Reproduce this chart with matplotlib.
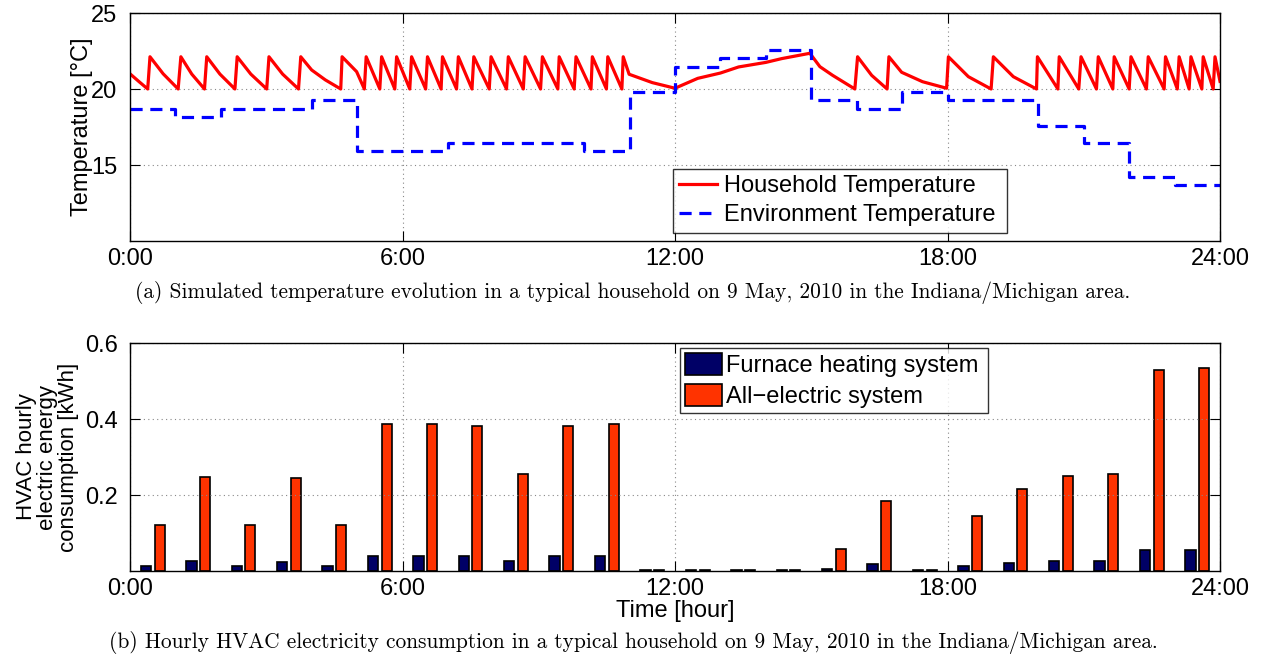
import matplotlib
matplotlib.use("Agg")
import matplotlib.pyplot as plt
import numpy as np
from matplotlib.patches import Patch

plt.rcParams['font.family'] = ['Liberation Sans', 'DejaVu Sans']

# ---------------- data ----------------
# Household temperature (hour, degC)
house_t = [0.00, 0.20, 0.39, 0.44, 0.73, 1.06, 1.12, 1.36, 1.64, 1.69, 1.98, 2.31, 2.36, 2.66,
           3.01, 3.06, 3.36, 3.71, 3.76, 4.00, 4.30, 4.64, 4.67, 4.99, 5.16,
           5.20, 5.50, 5.54, 5.83, 5.87, 6.16, 6.20, 6.51, 6.55, 6.85, 6.88, 7.19, 7.23, 7.53,
           7.57, 7.91, 7.95, 8.29, 8.33, 8.66, 8.70, 9.04, 9.08, 9.42, 9.45, 9.78, 9.82, 10.15,
           10.18, 10.49, 10.52, 10.83, 10.86, 10.99, 11.50, 12.00, 12.50, 13.00, 13.40, 14.00,
           14.35, 14.97, 15.19, 15.47, 15.96, 16.02, 16.33, 16.67, 16.71, 16.99, 17.45, 17.98,
           18.02, 18.46, 18.96, 19.01, 19.45, 19.96, 19.98, 20.43, 20.46, 20.89, 20.94, 21.28,
           21.32, 21.64, 21.67, 22.00, 22.04, 22.38, 22.42, 22.77, 22.80, 23.06, 23.10, 23.32,
           23.36, 23.60, 23.63, 23.85, 23.89, 24.00]
house_T = [21.00, 20.48, 20.00, 22.12, 21.00, 20.00, 22.12, 20.98, 20.00, 22.12, 20.98, 20.00, 22.12, 20.98,
           20.00, 22.12, 20.98, 20.00, 22.12, 21.25, 20.60, 20.00, 22.12, 21.14, 20.00,
           22.12, 20.00, 22.12, 20.00, 22.12, 20.00, 22.12, 20.00, 22.12, 20.00, 22.12, 20.00, 22.12, 20.00,
           22.12, 20.00, 22.12, 20.00, 22.12, 20.00, 22.12, 20.00, 22.12, 20.00, 22.12, 20.00, 22.12, 20.00,
           22.12, 20.00, 22.12, 20.00, 22.12, 20.97, 20.42, 20.05, 20.70, 21.05, 21.45, 21.75,
           22.00, 22.35, 21.47, 20.90, 20.00, 22.12, 20.90, 20.00, 22.12, 21.10, 20.48, 20.05,
           22.12, 20.81, 20.00, 22.12, 20.81, 20.00, 22.12, 20.00, 22.12, 20.00, 22.12, 20.00,
           22.12, 20.00, 22.12, 20.00, 22.12, 20.00, 22.12, 20.00, 22.12, 20.00, 22.12, 20.00,
           22.12, 20.00, 22.12, 20.00, 22.12, 20.50]

# Environment temperature, hourly steps (hour 0..23, last value repeated for hour 24)
env_hours = list(range(25))
env_T = [18.68, 18.13, 18.68, 18.68, 19.30, 15.89, 15.89, 16.44, 16.44, 16.44, 15.89, 19.78,
         21.45, 22.02, 22.59, 19.30, 18.68, 19.78, 19.25, 19.25, 17.58, 16.44, 14.24, 13.69, 13.69]

# Hourly HVAC consumption (kWh)
hours = list(range(24))
furnace_kwh = [0.012, 0.026, 0.012, 0.025, 0.012, 0.039, 0.039, 0.039, 0.026, 0.039, 0.039, 0.002,
               0.002, 0.002, 0.002, 0.006, 0.018, 0.002, 0.014, 0.022, 0.026, 0.026, 0.054, 0.055]
electric_kwh = [0.122, 0.248, 0.122, 0.245, 0.121, 0.386, 0.386, 0.382, 0.255, 0.382, 0.386, 0.003,
                0.003, 0.003, 0.003, 0.057, 0.184, 0.003, 0.145, 0.215, 0.250, 0.255, 0.530, 0.535]

xtick_pos = [0, 6, 12, 18, 24]
xtick_labels = ['0:00', '6:00', '12:00', '18:00', '24:00']

FS = 17
fig = plt.figure(figsize=(12.66, 6.62), dpi=100)

def style(ax):
    ax.tick_params(direction='in', top=True, right=True, length=7, width=0.8,
                   labelsize=FS)
    ax.tick_params(axis='x', pad=5)
    ax.tick_params(axis='y', pad=9)
    ax.grid(True, linestyle=(0, (1, 3)), color='#888888', linewidth=0.8)
    for s in ax.spines.values():
        s.set_linewidth(1.0)
    ax.set_xlim(0, 24)
    ax.set_xticks(xtick_pos)
    ax.set_xticklabels(xtick_labels)

# ---------- top ----------
ax1 = fig.add_axes([130/1266, 1-241/662, 1090/1266, 228/662])
ax1.plot(house_t, house_T, color='#ff0000', lw=2.3, label='Household Temperature')
ax1.plot(env_hours, env_T, color='#0000ff', lw=2.3, drawstyle='steps-post',
         dashes=(3.8, 2.4), label='Environment Temperature')
ax1.set_ylim(10, 25)
ax1.set_yticks([15, 20, 25])
style(ax1)
ax1.set_ylabel('Temperature [°C]', fontsize=FS, labelpad=-1)
leg1 = ax1.legend(loc='lower left', bbox_to_anchor=(0.498, 0.035, 0.307, 0.276), mode='expand',
                  fontsize=FS, frameon=True, fancybox=False, edgecolor='black',
                  handlelength=1.6, borderaxespad=0, labelspacing=0.3, handletextpad=0.3,
                  borderpad=0.28)
leg1.get_frame().set_linewidth(1.0)

# ---------- bottom ----------
ax2 = fig.add_axes([130/1266, 1-571/662, 1090/1266, 228/662])
x = np.array(hours) + 0.5
ax2.bar(x - 0.15, furnace_kwh, width=0.23, color='#000066', edgecolor='black', linewidth=1.2)
ax2.bar(x + 0.15, electric_kwh, width=0.22, color='#ff3300', edgecolor='black', linewidth=1.2)
ax2.set_ylim(0, 0.6)
ax2.set_yticks([0.2, 0.4, 0.6])
style(ax2)
ax2.set_ylabel('HVAC hourly\nelectric energy\nconsumption [kWh]', fontsize=16, labelpad=4,
               linespacing=1.0)
ax2.set_xlabel('Time [hour]', fontsize=FS, labelpad=0)
handles = [Patch(facecolor='#000066', edgecolor='black', linewidth=1.2),
           Patch(facecolor='#ff3300', edgecolor='black', linewidth=1.2)]
leg2 = ax2.legend(handles, ['Furnace heating system', 'All\u2212electric system'],
                  loc='lower left', bbox_to_anchor=(0.505, 0.693, 0.282, 0.289), mode='expand',
                  fontsize=FS, frameon=True, fancybox=False, edgecolor='black',
                  handlelength=1.55, handleheight=1.05, borderaxespad=0, labelspacing=0.3,
                  handletextpad=0.2, borderpad=0.2)
leg2.get_frame().set_linewidth(1.0)

# ---------- captions ----------
cap_font = ['cmr10', 'DejaVu Serif']
fig.text(0.5, 1-292/662, '(a) Simulated temperature evolution in a typical household on 9 May, 2010 in the Indiana/Michigan area.',
         ha='center', va='center', fontsize=15.4, family=cap_font)
fig.text(0.5, 1-643/662, '(b) Hourly HVAC electricity consumption in a typical household on 9 May, 2010 in the Indiana/Michigan area.',
         ha='center', va='center', fontsize=15.4, family=cap_font)

fig.savefig('out.png', dpi=100)
